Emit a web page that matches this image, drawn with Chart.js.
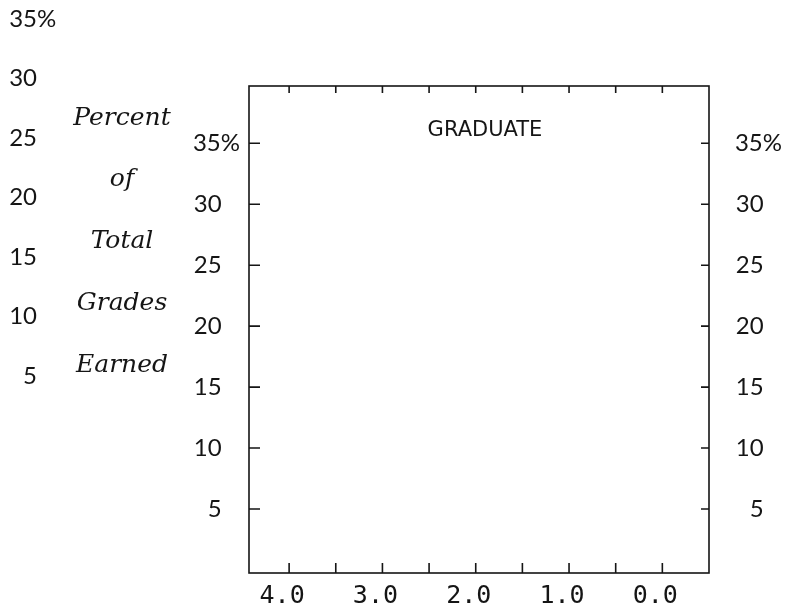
<!DOCTYPE html>
<html lang="en">
<head>
    <meta charset="UTF-8">
    <title>Graduate - Percent of Total Grades Earned</title>
    <script src="https://cdn.jsdelivr.net/npm/chart.js"></script>
    <style>
        html, body { margin: 0; padding: 0; background: #fff; }
        #wrap { width: 799px; height: 612px; position: relative; }
    </style>
</head>
<body>
    <div id="wrap"><canvas id="gradeChart"></canvas></div>

    <script>
        // values
        const gradeLabels = [4.0, 3.0, 2.0, 1.0, 0.0];                    // x tick labels
        const gradeMarks = [4.0, 3.5, 3.0, 2.5, 2.0, 1.5, 1.0, 0.5, 0.0];  // small marks on the x axis
        const percentTicks = [35, 30, 25, 20, 15, 10, 5];                  // both y axes
        const strayValues = [35, 30, 25, 20, 15, 10, 5];                   // left-over column at far left
        const strayLabels = ["35%", "30", "25", "20", "15", "10", "5"];
        const yTitle = ["Percent", "of", "Total", "Grades", "Earned"];
        const panelTitle = "GRADUATE";
        const gradeData = [];  // the panel is empty in the original

        const ink = "#151515";
        const tickFont = { family: "Lato", size: 24 };

        // trailing blanks so the digits line up and the % sign hangs out
        const probe = document.createElement("canvas").getContext("2d");
        probe.font = tickFont.size + "px " + tickFont.family;
        const pad = " ".repeat(Math.round(probe.measureText("%").width / probe.measureText(" ").width));

        function percentLabel(v) {
            if (!percentTicks.includes(v)) return "";
            return v === 35 ? "35%" : v + pad;
        }

        const paperPlugin = {
            id: "paper",
            afterDraw(chart) {
                const { ctx, chartArea: a, scales } = chart;
                const x = scales.x, y = scales.y, old = scales.yOld;
                ctx.save();
                ctx.strokeStyle = ink;
                ctx.lineWidth = 1.6;
                ctx.strokeRect(a.left, a.top, a.right - a.left, a.bottom - a.top);

                // inward tick marks
                ctx.beginPath();
                gradeMarks.forEach(g => {
                    const px = x.getPixelForValue(g);
                    ctx.moveTo(px, a.bottom); ctx.lineTo(px, a.bottom - 10);
                    ctx.moveTo(px, a.top); ctx.lineTo(px, a.top + 7);
                });
                percentTicks.forEach(p => {
                    const py = y.getPixelForValue(p);
                    ctx.moveTo(a.left, py); ctx.lineTo(a.left + 11, py);
                    ctx.moveTo(a.right, py); ctx.lineTo(a.right - 8, py);
                });
                ctx.stroke();

                ctx.fillStyle = ink;
                ctx.textBaseline = "middle";

                // panel title inside the box
                ctx.font = '21px "DejaVu Sans"';
                ctx.textAlign = "center";
                ctx.fillText(panelTitle, (a.left + a.right) / 2 + 6, a.top + 45);

                // stray column of labels on the far left
                ctx.font = tickFont.size + "px " + tickFont.family;
                ctx.textAlign = "left";
                strayLabels.forEach((s, i) => {
                    const py = old.getPixelForValue(strayValues[i]);
                    const w = ctx.measureText(s.replace("%", "")).width;
                    ctx.fillText(s, 37 - w, py);
                });

                // stacked italic axis title
                ctx.font = 'italic 25px "DejaVu Serif"';
                ctx.textAlign = "center";
                yTitle.forEach((t, i) => ctx.fillText(t, 122, 118 + i * 61.8));
                ctx.restore();
            }
        };

        const ctx = document.getElementById("gradeChart").getContext("2d");
        new Chart(ctx, {
            type: "scatter",
            data: { datasets: [{ label: panelTitle, data: gradeData, pointRadius: 0 }] },
            plugins: [paperPlugin],
            options: {
                responsive: true,
                maintainAspectRatio: false,
                animation: false,
                layout: { padding: { left: 189, right: 17, top: 86, bottom: 0 } },
                plugins: { legend: { display: false }, tooltip: { enabled: false } },
                scales: {
                    x: {
                        type: "linear",
                        reverse: true,
                        min: -0.5,
                        max: 4.43,
                        grid: { drawOnChartArea: false, drawTicks: false },
                        border: { display: false },
                        afterFit: s => { s.height = 39; },
                        ticks: {
                            stepSize: 0.5,
                            includeBounds: false,
                            autoSkip: false,
                            maxRotation: 0,
                            padding: 8,
                            labelOffset: -7,
                            color: ink,
                            font: { family: "DejaVu Sans Mono", size: 25 },
                            callback: v => gradeLabels.includes(v) ? v.toFixed(1) : ""
                        }
                    },
                    y: {
                        position: "left",
                        min: -0.25,
                        max: 39.7,
                        grid: { drawOnChartArea: false, drawTicks: false },
                        border: { display: false },
                        afterFit: s => { s.width = 60; },
                        ticks: {
                            stepSize: 5,
                            includeBounds: false,
                            autoSkip: false,
                            padding: 9,
                            color: ink,
                            font: tickFont,
                            callback: percentLabel
                        }
                    },
                    y2: {
                        position: "right",
                        min: -0.25,
                        max: 39.7,
                        grid: { drawOnChartArea: false, drawTicks: false },
                        border: { display: false },
                        afterFit: s => { s.width = 73; },
                        ticks: {
                            stepSize: 5,
                            includeBounds: false,
                            autoSkip: false,
                            crossAlign: "far",
                            color: ink,
                            font: tickFont,
                            callback: percentLabel
                        }
                    },
                    yOld: {
                        position: "left",
                        display: false,
                        min: -11.6,
                        max: 29.39
                    }
                }
            }
        });
    </script>
</body>
</html>
